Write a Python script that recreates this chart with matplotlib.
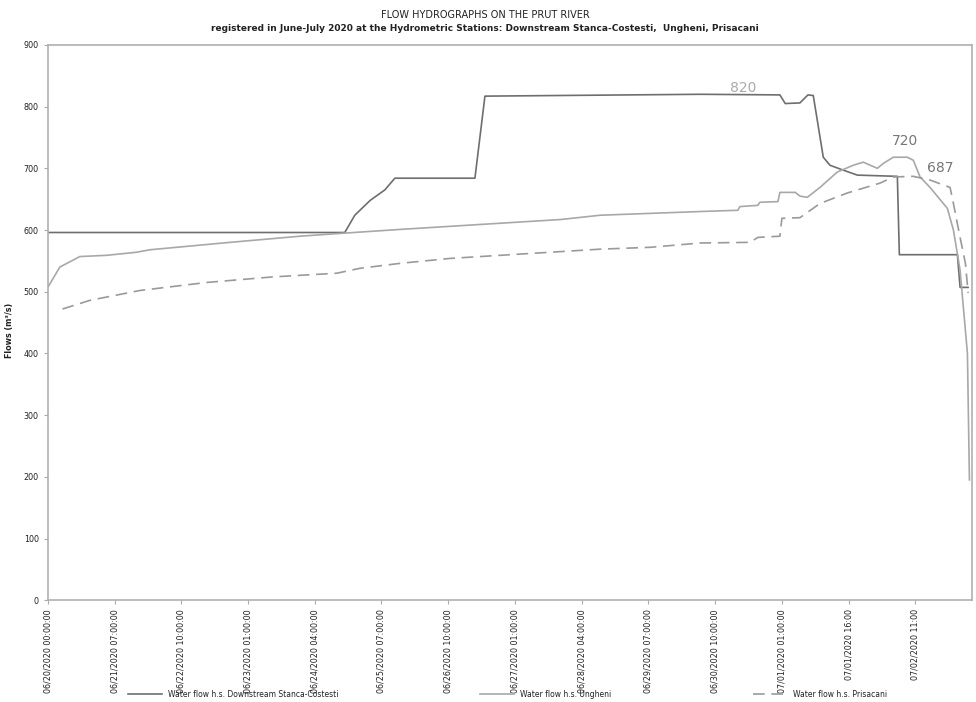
import matplotlib
matplotlib.use("Agg")
import matplotlib.pyplot as plt

# time axis in units of tick intervals (one tick label per unit)
tick_labels = [
    "06/20/2020 00:00:00", "06/21/2020 07:00:00", "06/22/2020 10:00:00",
    "06/23/2020 01:00:00", "06/24/2020 04:00:00", "06/25/2020 07:00:00",
    "06/26/2020 10:00:00", "06/27/2020 01:00:00", "06/28/2020 04:00:00",
    "06/29/2020 07:00:00", "06/30/2020 10:00:00", "07/01/2020 01:00:00",
    "07/01/2020 16:00", "07/02/2020 11:00",
]

# Downstream Stanca-Costesti
t_stanca = [0, 4.45, 4.60, 4.83, 5.05, 5.20, 6.40, 6.55, 9.78, 10.97, 11.05,
            11.27, 11.39, 11.47, 11.62, 11.72, 11.92, 12.13, 12.73, 12.76,
            13.63, 13.67, 13.79]
q_stanca = [596, 596, 624, 648, 665, 684, 684, 817, 820, 819, 805,
            806, 819, 818, 718, 705, 697, 689, 687, 560,
            560, 507, 507]

# Ungheni
t_ungheni = [0, 0.18, 0.48, 0.88, 1.33, 1.53, 2.73, 3.78, 4.45, 5.28, 6.78,
             7.68, 8.28, 9.78, 10.34, 10.37, 10.64, 10.67, 10.94, 10.97,
             11.20, 11.27, 11.38, 11.57, 11.83, 12.07, 12.22, 12.43, 12.52,
             12.67, 12.88, 12.97, 13.07, 13.22, 13.48, 13.57, 13.67, 13.78,
             13.81]
q_ungheni = [507, 540, 557, 559, 564, 568, 580, 590, 595, 601, 611,
             617, 624, 630, 632, 638, 640, 645, 646, 661,
             661, 655, 653, 669, 694, 705, 710, 700, 708,
             718, 718, 713, 686, 669, 635, 600, 535, 400,
             195]

# Prisacani
t_prisacani = [0.22, 0.63, 1.38, 2.38, 3.37, 4.33, 4.68, 5.28, 6.03, 6.78,
               7.53, 8.28, 9.03, 9.78, 10.52, 10.64, 10.97, 11.0, 11.27,
               11.57, 11.98, 12.47, 12.67, 12.97, 13.22, 13.42, 13.52, 13.57,
               13.67, 13.75, 13.79]
q_prisacani = [472, 486, 502, 515, 524, 530, 538, 546, 554, 559,
               564, 569, 572, 579, 580, 588, 590, 619, 620,
               643, 660, 676, 686, 687, 681, 673, 669, 643,
               588, 546, 498]

peak_labels = [(10.42, 830, "820", "#aaaaaa"),
               (12.85, 745, "720", "#777777"),
               (13.37, 700, "687", "#777777")]

fig = plt.figure(figsize=(9.76, 7.02), dpi=100)
ax = fig.add_axes([0.049, 0.145, 0.947, 0.791])

ax.plot(t_stanca, q_stanca, color="#6e6e6e", lw=1.2,
        label="Water flow h.s. Downstream Stanca-Costesti")
ax.plot(t_ungheni, q_ungheni, color="#a8a8a8", lw=1.2,
        label="Water flow h.s. Ungheni")
ax.plot(t_prisacani, q_prisacani, color="#9a9a9a", lw=1.2,
        dashes=(7, 4), label="Water flow h.s. Prisacani")

for x, y, s, c in peak_labels:
    ax.text(x, y, s, color=c, fontsize=10, ha="center", va="center")

ax.set_xlim(0, 13.85)
ax.set_ylim(0, 900)
ax.set_yticks(range(0, 901, 100))
ax.set_xticks(range(len(tick_labels)))
ax.set_xticklabels(tick_labels, rotation=90, fontsize=5.8, color="#222222")
ax.tick_params(axis="y", labelsize=5.8, labelcolor="#222222", length=3,
               color="#aaaaaa")
ax.tick_params(axis="x", length=3, color="#aaaaaa")
for sp in ax.spines.values():
    sp.set_color("#b0b0b0")
    sp.set_linewidth(1.2)

fig.text(0.01, 0.53, "Flows (m\u00b3/s)", rotation=90, fontsize=5.8,
         fontweight="bold", ha="center", va="center", color="#222222")

fig.text(0.497, 0.979, "FLOW HYDROGRAPHS ON THE PRUT RIVER", fontsize=7,
         ha="center", va="center", color="#222222")
fig.text(0.497, 0.960,
         "registered in June-July 2020 at the Hydrometric Stations: "
         "Downstream Stanca-Costesti,  Ungheni, Prisacani",
         fontsize=6.5, fontweight="bold", ha="center", va="center",
         color="#222222")

leg = fig.legend(loc="lower center", bbox_to_anchor=(0.52, -0.005), ncol=3,
                 frameon=False, fontsize=5.5, columnspacing=18.5,
                 handlelength=4.5)
for txt in leg.get_texts():
    txt.set_color("#222222")

fig.savefig("out.png", dpi=100)
